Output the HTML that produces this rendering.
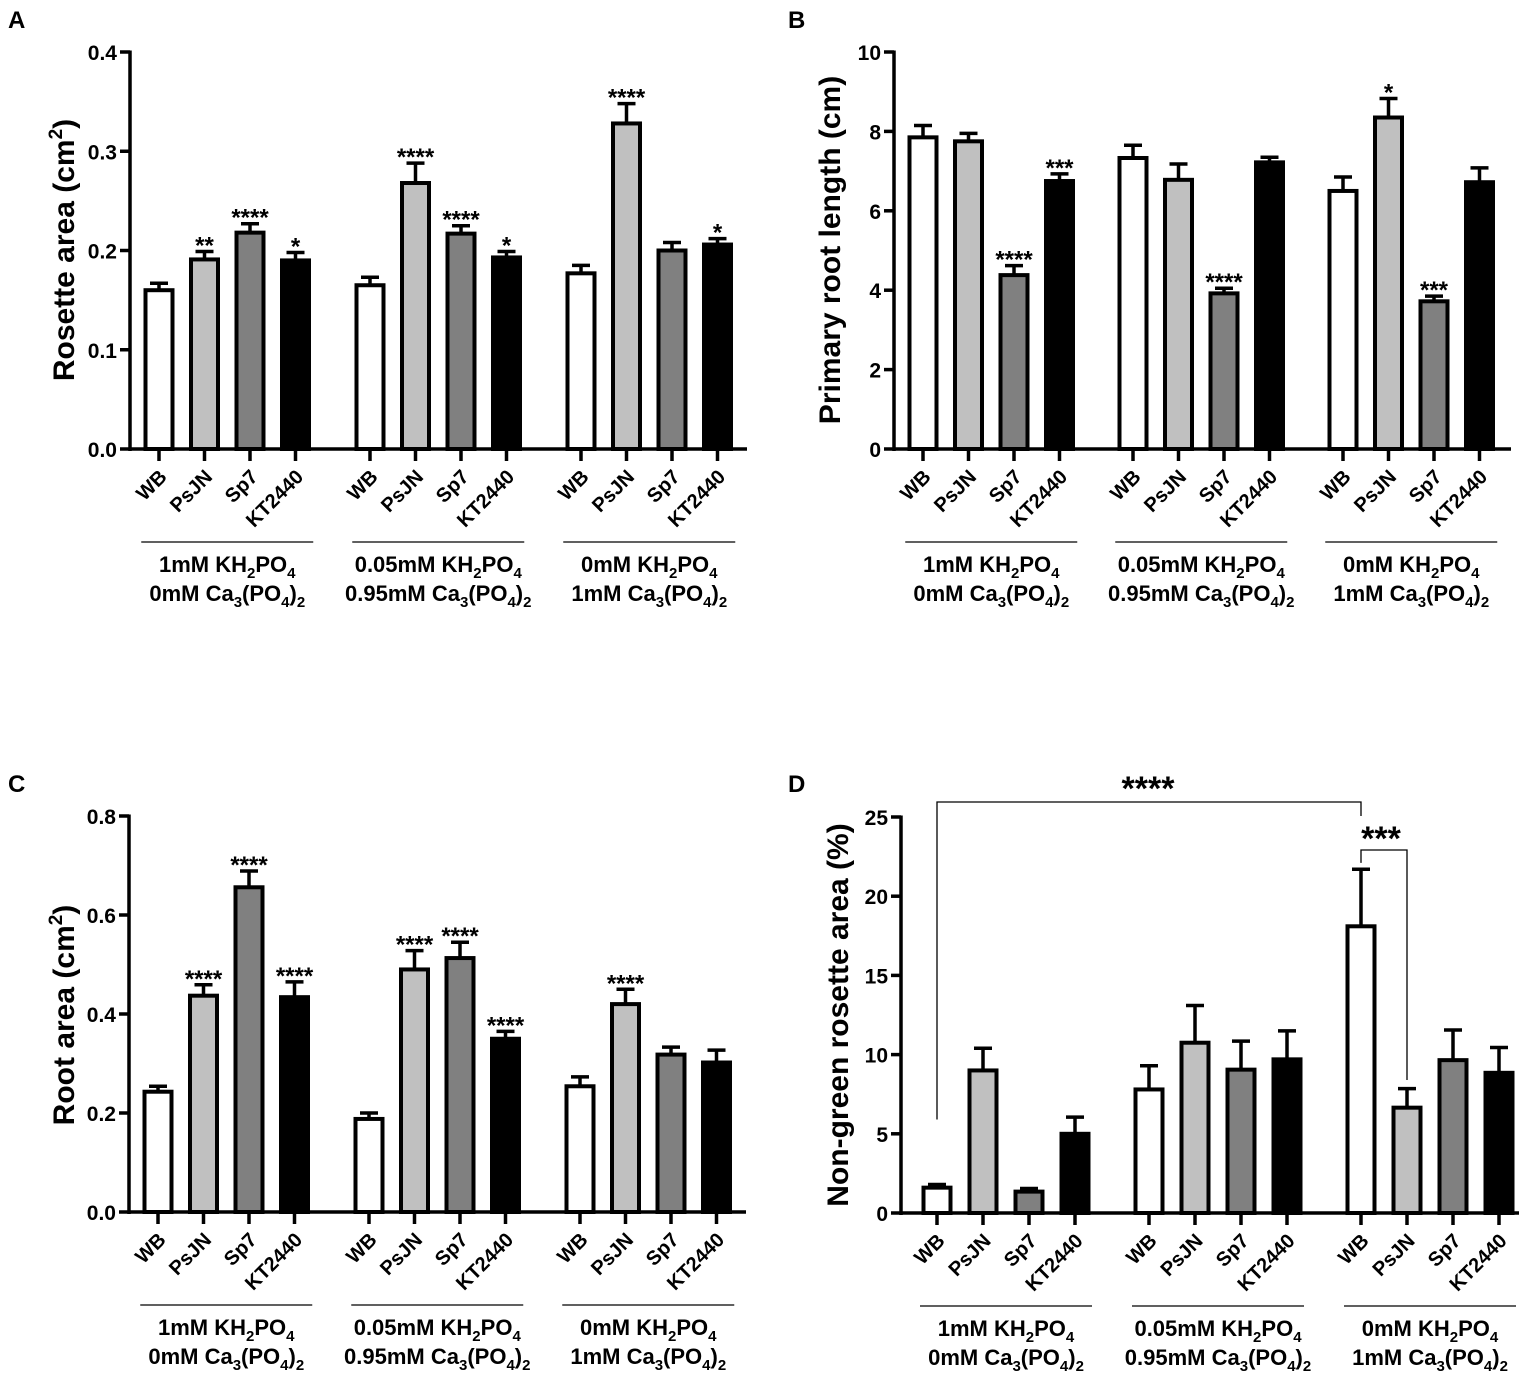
<!DOCTYPE html>
<html><head><meta charset="utf-8"><style>
html,body{margin:0;padding:0;background:#fff;}
svg{display:block;font-family:"Liberation Sans",Arial,sans-serif;font-weight:bold;}
</style></head><body>
<svg id="fig" width="1535" height="1384" viewBox="0 0 1535 1384" xmlns="http://www.w3.org/2000/svg"></svg>
<script>
const strains = ["WB","PsJN","Sp7","KT2440"];
const fills = ["#ffffff","#c0c0c0","#808080","#000000"];
const groupLine1 = ["1mM KH<tspan font-size='15' dy='6'>2</tspan><tspan dy='-6'>PO</tspan><tspan font-size='15' dy='6'>4</tspan>",
  "0.05mM KH<tspan font-size='15' dy='6'>2</tspan><tspan dy='-6'>PO</tspan><tspan font-size='15' dy='6'>4</tspan>",
  "0mM KH<tspan font-size='15' dy='6'>2</tspan><tspan dy='-6'>PO</tspan><tspan font-size='15' dy='6'>4</tspan>"];
const groupLine2 = ["0mM Ca<tspan font-size='15' dy='6'>3</tspan><tspan dy='-6'>(PO</tspan><tspan font-size='15' dy='6'>4</tspan><tspan dy='-6'>)</tspan><tspan font-size='15' dy='6'>2</tspan>",
  "0.95mM Ca<tspan font-size='15' dy='6'>3</tspan><tspan dy='-6'>(PO</tspan><tspan font-size='15' dy='6'>4</tspan><tspan dy='-6'>)</tspan><tspan font-size='15' dy='6'>2</tspan>",
  "1mM Ca<tspan font-size='15' dy='6'>3</tspan><tspan dy='-6'>(PO</tspan><tspan font-size='15' dy='6'>4</tspan><tspan dy='-6'>)</tspan><tspan font-size='15' dy='6'>2</tspan>"];

// Panel A
const aMeans = [0.160,0.191,0.218,0.190, 0.165,0.268,0.217,0.193, 0.177,0.328,0.200,0.206];
const aErr   = [0.167,0.199,0.227,0.198, 0.173,0.288,0.225,0.199, 0.185,0.348,0.208,0.212];
const aStars = ["","**","****","*", "","****","****","*", "","****","","*"];
const aTicks = ["0.0","0.1","0.2","0.3","0.4"];
// Panel B
const bMeans = [7.85,7.75,4.38,6.75, 7.33,6.78,3.92,7.22, 6.50,8.35,3.72,6.72];
const bErr   = [8.15,7.95,4.62,6.93, 7.65,7.18,4.05,7.35, 6.85,8.83,3.85,7.08];
const bStars = ["","","****","***", "","","****","", "","*","***",""];
const bTicks = ["0","2","4","6","8","10"];
// Panel C
const cMeans = [0.243,0.437,0.656,0.434, 0.188,0.490,0.513,0.350, 0.254,0.420,0.318,0.302];
const cErr   = [0.254,0.459,0.689,0.465, 0.200,0.528,0.545,0.365, 0.273,0.450,0.333,0.327];
const cStars = ["","****","****","****", "","****","****","****", "","****","",""];
const cTicks = ["0.0","0.2","0.4","0.6","0.8"];
// Panel D
const dMeans = [1.6,9.0,1.35,5.0, 7.8,10.75,9.05,9.7, 18.1,6.65,9.65,8.85];
const dErr   = [1.8,10.4,1.55,6.05, 9.3,13.1,10.85,11.5, 21.7,7.85,11.55,10.45];
const dStars = ["","","","", "","","","", "","","",""];
const dTicks = ["0","5","10","15","20","25"];

const NS="http://www.w3.org/2000/svg";
const svg=document.getElementById('fig');
function mk(tag,attrs,parent){const e=document.createElementNS(NS,tag);for(const k in attrs)e.setAttribute(k,attrs[k]);(parent||svg).appendChild(e);return e;}

function panel(cfg){
  const g=mk('g',{});
  
  
  const y=v=>cfg.y0-(v/cfg.max)*(cfg.y0-cfg.yTop);
  const xc=i=>cfg.x0+cfg.first+(i%4)*cfg.step+Math.floor(i/4)*cfg.gstep;
  const L=mk('text',{x:cfg.lx,y:cfg.ly,'font-size':24},g);L.textContent=cfg.letter;
  
  
  cfg.ticks.forEach((t,k)=>{
    const v=cfg.max*k/(cfg.ticks.length-1);
    mk('line',{x1:cfg.x0-10,x2:cfg.x0,y1:y(v),y2:y(v),stroke:'#000','stroke-width':3.5},g);
    const tx=mk('text',{x:cfg.x0-13,y:y(v)+8,'font-size':21,'text-anchor':'end'},g);tx.textContent=t;
    
    
  });
  const yt=mk('text',{x:0,y:0,'font-size':30,'text-anchor':'middle',transform:`translate(${cfg.tx},${cfg.ty}) rotate(-90)`},g);
  yt.innerHTML=cfg.title;
  
  
  cfg.means.forEach((m,i)=>{
    const cx=xc(i),w=27;
    const e=cfg.err[i];
    mk('line',{x1:cx,x2:cx,y1:y(m),y2:y(e),stroke:'#000','stroke-width':3.5},g);
    mk('line',{x1:cx-9,x2:cx+9,y1:y(e),y2:y(e),stroke:'#000','stroke-width':3.5},g);
    const r=mk('rect',{x:cx-w/2,y:y(m),width:w,height:cfg.y0-y(m),fill:fills[i%4],stroke:'#000','stroke-width':4},g);
    
    
    if(cfg.stars[i]){
      const s=mk('text',{x:cx,y:y(e)+2,'font-size':24,'text-anchor':'middle'},g);s.textContent=cfg.stars[i];
      
      
    }
    mk('line',{x1:cx,x2:cx,y1:cfg.y0,y2:cfg.y0+12,stroke:'#000','stroke-width':3.5},g);
    const lb=mk('text',{x:0,y:0,'font-size':20,'text-anchor':'end',transform:`translate(${cx+9},${cfg.y0+29}) rotate(-45)`},g);
    lb.textContent=strains[i%4];
    
    
  });
  mk('line',{x1:cfg.x0,x2:cfg.x0,y1:cfg.yTop-1.5,y2:cfg.y0+2,stroke:'#000','stroke-width':3.5},g);
  mk('line',{x1:cfg.x0,x2:cfg.xEnd,y1:cfg.y0,y2:cfg.y0,stroke:'#000','stroke-width':3.5},g);
  for(let k=0;k<3;k++){
    const c=(xc(4*k)+xc(4*k+3))/2;
    mk('line',{x1:c-86,x2:c+86,y1:cfg.y0+93,y2:cfg.y0+93,stroke:'#000','stroke-width':1.3},g);
    const t1=mk('text',{x:c,y:cfg.y0+123,'font-size':22,'text-anchor':'middle'},g);t1.innerHTML=groupLine1[k];
    
    
    const t2=mk('text',{x:c,y:cfg.y0+152,'font-size':22,'text-anchor':'middle'},g);t2.innerHTML=groupLine2[k];
    
    
  }
  return {g,y,xc};
}

panel({name:'panel-a',letter:'A',lx:8,ly:28,x0:130,xEnd:747,first:29,step:45.5,gstep:211,y0:449,yTop:52,max:0.4,
  ticks:aTicks,means:aMeans,err:aErr,stars:aStars,tx:74,ty:250,title:"Rosette area (cm<tspan font-size='19' dy='-12'>2</tspan><tspan dy='12'>)</tspan>"});
panel({name:'panel-b',letter:'B',lx:788,ly:28,x0:894,xEnd:1511,first:29,step:45.5,gstep:210,y0:449,yTop:52,max:10,
  ticks:bTicks,means:bMeans,err:bErr,stars:bStars,tx:840,ty:250,title:"Primary root length (cm)"});
panel({name:'panel-c',letter:'C',lx:8,ly:792,x0:129,xEnd:746,first:29,step:45.5,gstep:211,y0:1212,yTop:816,max:0.8,
  ticks:cTicks,means:cMeans,err:cErr,stars:cStars,tx:74,ty:1015,title:"Root area (cm<tspan font-size='19' dy='-12'>2</tspan><tspan dy='12'>)</tspan>"});
const D=panel({name:'panel-d',letter:'D',lx:788,ly:792,x0:901,xEnd:1519,first:36,step:46,gstep:212,y0:1213,yTop:817,max:25,
  ticks:dTicks,means:dMeans,err:dErr,stars:dStars,tx:848,ty:1015,title:"Non-green rosette area (%)"});
const b1=mk('polyline',{points:`${D.xc(0)},${D.y(5.9)} ${D.xc(0)},802 ${D.xc(8)},802 ${D.xc(8)},816`,fill:'none',stroke:'#000','stroke-width':1.3},D.g);


const s1=mk('text',{x:1148,y:800,'font-size':34,'text-anchor':'middle'},D.g);s1.textContent='****';


const b2=mk('polyline',{points:`${D.xc(8)},${D.y(22.1)} ${D.xc(8)},850 ${D.xc(9)},850 ${D.xc(9)},${D.y(8.4)}`,fill:'none',stroke:'#000','stroke-width':1.3},D.g);


const s2=mk('text',{x:1381,y:850,'font-size':34,'text-anchor':'middle'},D.g);s2.textContent='***';


</script>
</body></html>
